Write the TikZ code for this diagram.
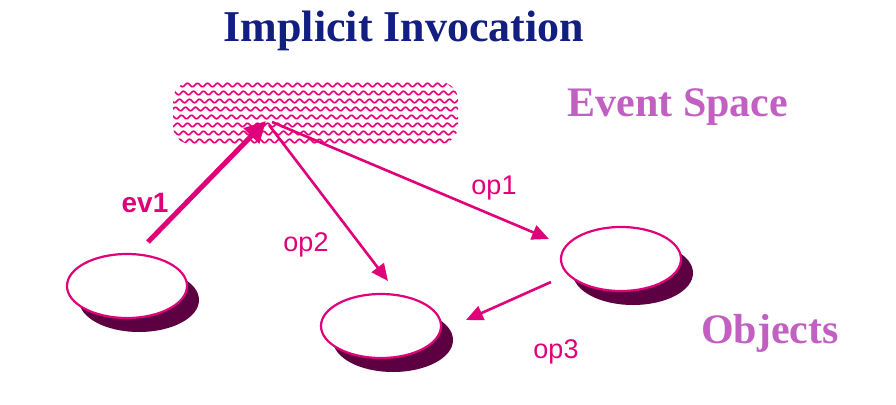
\documentclass[tikz,border=0pt]{standalone}
\usepackage{fontspec}
\setmainfont{Liberation Serif}
\setsansfont{Liberation Sans}
\usetikzlibrary{shapes.geometric,arrows.meta}
\definecolor{mag}{RGB}{224,0,122}
\definecolor{shade}{RGB}{92,0,66}
\definecolor{violet}{RGB}{194,96,194}
\definecolor{navy}{RGB}{18,30,128}
\tikzset{
  obj/.style={ellipse,draw=mag,line width=2.2pt,fill=white,minimum width=120pt,minimum height=64pt,inner sep=0pt},
  objshadow/.style={ellipse,fill=shade,minimum width=120pt,minimum height=64pt,inner sep=0pt},
  hatch/.style={mag,line width=1.6pt},
  flow/.style={mag,line width=2.6pt,-{Triangle[length=17pt,width=15pt]}},
  bigflow/.style={mag,line width=5pt,-{Triangle[length=21pt,width=21pt]}},
  lbl/.style={mag,font=\sffamily\fontsize{27}{30}\selectfont},
  blbl/.style={mag,font=\sffamily\bfseries\fontsize{28}{30}\selectfont},
  heading/.style={violet,font=\bfseries\fontsize{42}{48}\selectfont}
}
\begin{document}
\begin{tikzpicture}[x=1pt,y=-1pt]
\useasboundingbox[fill=white] (0,0) rectangle (896,404);
% title
\node[navy,font=\bfseries\fontsize{44}{50}\selectfont] (title) at (404,31) {Implicit Invocation};
% event space
\begin{scope}
  \clip[rounded corners=18pt] (173,82) rectangle (458,144);
  \foreach \yy in {85,93,101,109,117,125,133,141}{
    \draw[hatch] plot[domain=170:462,samples=240,smooth] (\x,{\yy+1.8*sin(36*(\x-170)+18*(\yy-85))});
  }
\end{scope}
\coordinate (hub) at (266,121);
\node[heading] (es) at (678,107) {Event Space};
\node[heading] (objs) at (770,333) {Objects};
% objects
\node[objshadow] (s1) at (139,300) {};
\node[obj] (o1) at (127,286) {};
\node[objshadow] (s2) at (393,340) {};
\node[obj] (o2) at (381,326) {};
\node[objshadow] (s3) at (633,273) {};
\node[obj] (o3) at (621,259) {};
% connectors
\coordinate (ev1s) at (148,242);
\coordinate (op2s) at (269,125);
\coordinate (op2e) at (388,281);
\coordinate (op1s) at (272,122);
\coordinate (op1e) at (549,239);
\coordinate (op3s) at (551,282);
\coordinate (op3e) at (466,320);
\draw[bigflow] (ev1s) -- (hub);
\draw[flow] (op2s) -- (op2e);
\draw[flow] (op1s) -- (op1e);
\draw[flow] (op3s) -- (op3e);
% labels
\node[blbl] (l1) at (145,203) {ev1};
\node[lbl] (l2) at (494,188) {op1};
\node[lbl] (l3) at (306,245) {op2};
\node[lbl] (l4) at (556,352) {op3};
\end{tikzpicture}
\end{document}
